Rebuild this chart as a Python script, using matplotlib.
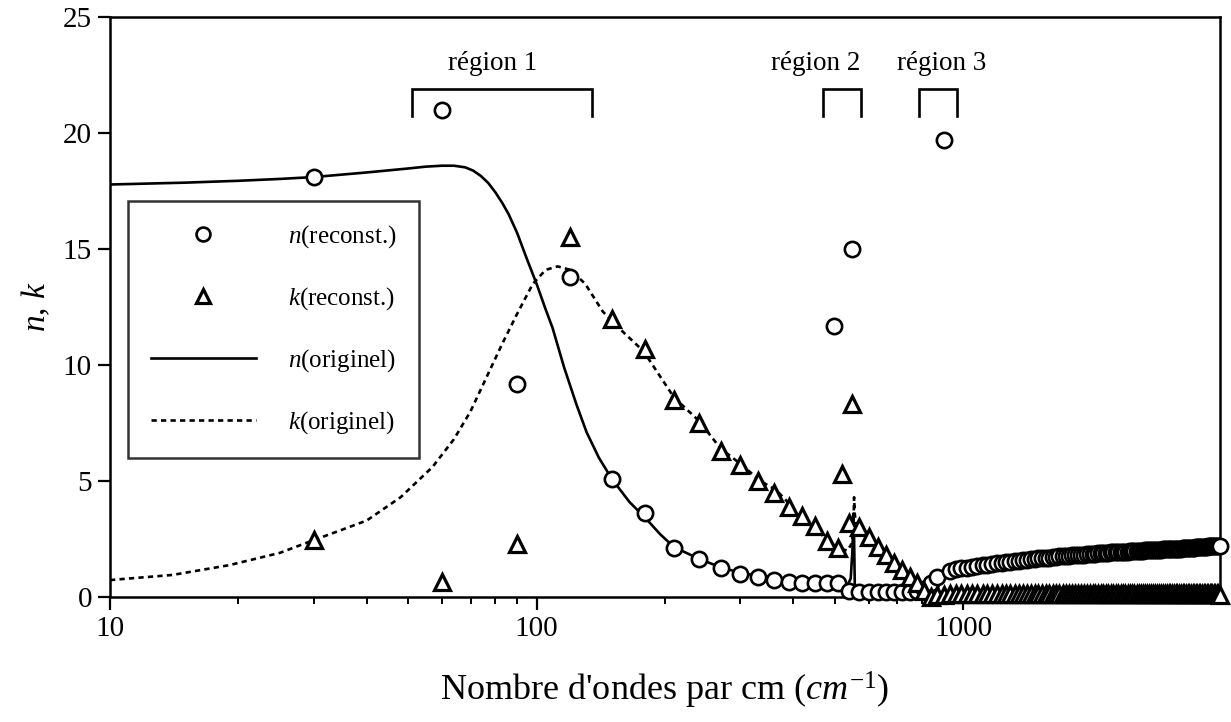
import matplotlib
matplotlib.use("Agg")
import matplotlib.pyplot as plt

plt.rcParams['font.family'] = 'Liberation Serif'
plt.rcParams['mathtext.fontset'] = 'custom'
plt.rcParams['mathtext.rm'] = 'Liberation Serif'
plt.rcParams['mathtext.it'] = 'Liberation Serif:italic'
plt.rcParams['mathtext.bf'] = 'Liberation Serif:bold'

# ---------------- data ----------------
# original n (solid line)
nu_n_orig = [10, 15, 20, 25, 30, 40, 50, 55, 60, 64, 68, 71, 74, 77, 80, 83, 86, 90, 95,
             100, 105, 109, 116, 124, 131, 140, 150, 165, 180, 195, 210, 240, 270, 300,
             350, 400, 450, 500, 535, 545, 550, 553, 555, 557, 560, 565, 580, 600, 700,
             800, 830, 850, 870, 900, 950, 1000, 1200, 1500, 2000, 2500, 3000, 4000]
n_orig = [17.78, 17.86, 17.94, 18.02, 18.1, 18.3, 18.47, 18.55, 18.59, 18.59, 18.52, 18.38,
          18.15, 17.85, 17.45, 17.0, 16.5, 15.7, 14.55, 13.5, 12.4, 11.6, 9.9, 8.3, 7.1,
          6.0, 5.1, 4.1, 3.4, 2.7, 2.15, 1.65, 1.28, 1.05, 0.82, 0.66, 0.56, 0.5, 0.48,
          0.8, 2.0, 3.6, 2.5, 0.6, 0.1, 0.2, 0.28, 0.28, 0.24, 0.2, 0.2, 0.3, 0.55, 0.9,
          1.15, 1.25, 1.45, 1.66, 1.86, 1.98, 2.05, 2.21]

# original k (dotted line)
nu_k_orig = [10, 14, 19, 25, 30, 35, 40, 48, 57, 64, 70, 76, 83, 90, 98, 105, 112, 120,
             130, 143, 160, 178, 210, 240, 270, 300, 335, 365, 392, 416, 450, 480, 510,
             535, 548, 553, 555, 557, 560, 570, 600, 630, 660, 690, 720, 750, 780, 810,
             840, 870, 1000, 4000]
k_orig = [0.73, 0.95, 1.37, 1.9, 2.45, 2.9, 3.3, 4.3, 5.6, 6.8, 8.0, 9.4, 10.9, 12.2,
          13.5, 14.1, 14.25, 14.1, 13.5, 12.3, 11.4, 10.6, 8.6, 7.6, 6.4, 5.75, 5.0, 4.6,
          4.0, 3.4, 2.95, 2.45, 2.1, 2.0, 2.3, 3.0, 4.3, 3.6, 3.2, 3.05, 2.6, 2.15, 1.8,
          1.45, 1.15, 0.85, 0.6, 0.3, 0.1, 0.05, 0.03, 0.02]

# reconstructed points (regular 30 cm-1 grid)
nu_rec = [30, 60, 90, 120, 150, 180, 210, 240, 270, 300,
          330, 360, 390, 420, 450, 480, 510, 540, 570, 600,
          630, 660, 690, 720, 750, 780, 810, 840, 870, 900,
          930, 960, 990, 1020, 1050, 1080, 1110, 1140, 1170, 1200,
          1230, 1260, 1290, 1320, 1350, 1380, 1410, 1440, 1470, 1500,
          1530, 1560, 1590, 1620, 1650, 1680, 1710, 1740, 1770, 1800,
          1830, 1860, 1890, 1920, 1950, 1980, 2010, 2040, 2070, 2100,
          2130, 2160, 2190, 2220, 2250, 2280, 2310, 2340, 2370, 2400,
          2430, 2460, 2490, 2520, 2550, 2580, 2610, 2640, 2670, 2700,
          2730, 2760, 2790, 2820, 2850, 2880, 2910, 2940, 2970, 3000,
          3030, 3060, 3090, 3120, 3150, 3180, 3210, 3240, 3270, 3300,
          3330, 3360, 3390, 3420, 3450, 3480, 3510, 3540, 3570, 3600,
          3630, 3660, 3690, 3720, 3750, 3780, 3810, 3840, 3870, 3900,
          3930, 3960, 3990]
n_rec = [18.1, 21.0, 9.2, 13.8, 5.1, 3.6, 2.1, 1.65, 1.25, 1.0,
         0.85, 0.75, 0.65, 0.6, 0.6, 0.6, 0.6, 0.25, 0.2, 0.2,
         0.2, 0.2, 0.2, 0.2, 0.2, 0.25, 0.35, 0.6, 0.85, 19.7,
         1.1, 1.19, 1.23, 1.27, 1.30, 1.34, 1.37, 1.40, 1.43, 1.45,
         1.48, 1.50, 1.53, 1.55, 1.57, 1.59, 1.61, 1.62, 1.64, 1.66,
         1.67, 1.69, 1.70, 1.72, 1.73, 1.75, 1.76, 1.77, 1.78, 1.79,
         1.80, 1.81, 1.82, 1.83, 1.84, 1.85, 1.86, 1.87, 1.88, 1.89,
         1.90, 1.90, 1.91, 1.92, 1.93, 1.93, 1.94, 1.95, 1.95, 1.96,
         1.96, 1.97, 1.98, 1.98, 1.99, 1.99, 2.00, 2.00, 2.01, 2.01,
         2.02, 2.02, 2.03, 2.03, 2.03, 2.04, 2.04, 2.05, 2.05, 2.05,
         2.06, 2.06, 2.07, 2.07, 2.08, 2.08, 2.09, 2.09, 2.10, 2.10,
         2.11, 2.11, 2.12, 2.12, 2.13, 2.13, 2.14, 2.14, 2.15, 2.15,
         2.16, 2.16, 2.17, 2.17, 2.18, 2.18, 2.18, 2.19, 2.19, 2.20,
         2.20, 2.20, 2.21]
k_rec = [2.45, 0.65, 2.3, 15.5, 12.0, 10.7, 8.5, 7.5, 6.3, 5.7,
         5.0, 4.5, 3.9, 3.5, 3.05, 2.4, 2.1, 3.2, 3.0, 2.6,
         2.15, 1.8, 1.45, 1.15, 0.85, 0.6, 0.25, 0.0, 0.1, 0.1,
         0.15, 0.15, 0.15, 0.15, 0.15, 0.15, 0.15, 0.15, 0.15, 0.15,
         0.15, 0.15, 0.15, 0.15, 0.15, 0.15, 0.15, 0.15, 0.15, 0.15,
         0.15, 0.15, 0.15, 0.15, 0.15, 0.15, 0.15, 0.15, 0.15, 0.15,
         0.15, 0.15, 0.15, 0.15, 0.15, 0.15, 0.15, 0.15, 0.15, 0.15,
         0.15, 0.15, 0.15, 0.15, 0.15, 0.15, 0.15, 0.15, 0.15, 0.15,
         0.15, 0.15, 0.15, 0.15, 0.15, 0.15, 0.15, 0.15, 0.15, 0.15,
         0.15, 0.15, 0.15, 0.15, 0.15, 0.15, 0.15, 0.15, 0.15, 0.15,
         0.15, 0.15, 0.15, 0.15, 0.15, 0.15, 0.15, 0.15, 0.15, 0.15,
         0.15, 0.15, 0.15, 0.15, 0.15, 0.15, 0.15, 0.15, 0.15, 0.15,
         0.15, 0.15, 0.15, 0.15, 0.15, 0.15, 0.15, 0.15, 0.15, 0.15,
         0.15, 0.15, 0.1]

# extra reconstructed outliers near region 2
nu_n_extra = [497, 548]
n_extra = [11.7, 15.0]
nu_k_extra = [519, 550]
k_extra = [5.3, 8.3]

# region brackets
region_labels = ["région 1", "région 2", "région 3"]
region_lo = [51, 468, 790]
region_hi = [135, 577, 968]
region_text_x = [79, 452, 889]

x_ticks = [10, 100, 1000]
x_tick_labels = ["10", "100", "1000"]
y_ticks = [0, 5, 10, 15, 20, 25]

# ---------------- figure ----------------
fig = plt.figure(figsize=(12.31, 7.22), dpi=100)
ax = fig.add_axes([110 / 1231, 1 - 597 / 722, 1110 / 1231, 580 / 722])

ax.set_xscale('log')
ax.set_xlim(10, 4000)
ax.set_ylim(0, 25)

line_n, = ax.plot(nu_n_orig, n_orig, color='black', lw=1.9, solid_joinstyle='round',
                  label=r'$n$(originel)', zorder=2)
line_k, = ax.plot(nu_k_orig, k_orig, color='black', lw=1.9, linestyle=(0, (2.0, 1.6)),
                  label=r'$k$(originel)', zorder=2)

mk_style = dict(linestyle='none', markerfacecolor='white', markeredgecolor='black',
                clip_on=False)
pts_n, = ax.plot(nu_rec + nu_n_extra, n_rec + n_extra, marker='o', markersize=11,
                 markeredgewidth=1.9, label=r'$n$(reconst.)', zorder=3, **mk_style)
pts_k, = ax.plot(nu_rec + nu_k_extra, k_rec + k_extra, marker='^', markersize=11.5,
                 markeredgewidth=2.3, label=r'$k$(reconst.)', zorder=4, **mk_style)

# region brackets
for lab, lo, hi, tx in zip(region_labels, region_lo, region_hi, region_text_x):
    ax.plot([lo, lo, hi, hi], [20.75, 21.9, 21.9, 20.75], color='black', lw=1.9,
            solid_joinstyle='miter', zorder=2)
    ax.text(tx, 23.0, lab, ha='center', va='center', fontsize=19.5)

# axes styling
for s in ax.spines.values():
    s.set_linewidth(1.8)
ax.set_xticks(x_ticks)
ax.set_xticklabels(x_tick_labels)
ax.set_yticks(y_ticks)
ax.tick_params(axis='both', which='major', direction='out', length=9, width=1.6,
               labelsize=21, top=False, right=False)
ax.tick_params(axis='x', which='minor', direction='out', length=5, width=1.4,
               top=False)
ax.tick_params(axis='x', which='major', pad=5)
ax.tick_params(axis='y', which='major', pad=4)

ax.set_xlabel(r"Nombre d'ondes par cm ($cm^{\mathit{-1}}$)", fontsize=26)
ax.xaxis.set_label_coords(0.5, -0.125)
ax.set_ylabel(r"$n$, $k$", fontsize=24)
ax.yaxis.set_label_coords(-0.052, 0.5)

leg = ax.legend(handles=[pts_n, pts_k, line_n, line_k], loc='upper left',
                bbox_to_anchor=(128 / 1231, 1 - 201 / 722), bbox_transform=fig.transFigure,
                borderaxespad=0, frameon=True, fancybox=False, fontsize=18,
                handlelength=4.2, handletextpad=1.3, borderpad=0.9, labelspacing=1.4,
                numpoints=1)
leg.get_frame().set_edgecolor('black')
leg.get_frame().set_linewidth(1.8)
for h in leg.legend_handles:
    if h.get_marker() == 'o':
        h.set_markersize(10)
    elif h.get_marker() == '^':
        h.set_markersize(10)

fig.savefig('out.png', dpi=100)
